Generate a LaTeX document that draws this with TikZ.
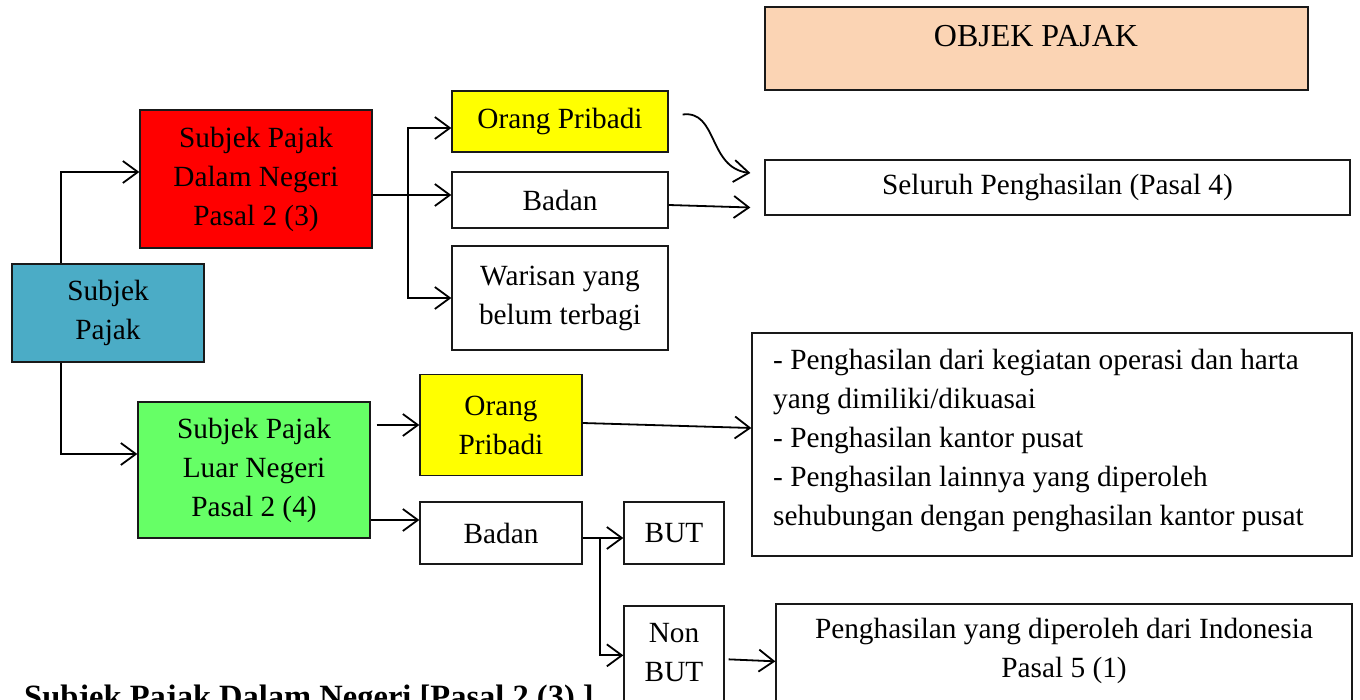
\documentclass[tikz,border=0pt]{standalone}
\usepackage{fontspec}
\setmainfont{Liberation Serif}
\usetikzlibrary{arrows.meta}
\definecolor{peach}{HTML}{FBD4B4}
\definecolor{sred}{HTML}{FF0000}
\definecolor{syellow}{HTML}{FFFF00}
\definecolor{sgreen}{HTML}{66FF66}
\definecolor{sblue}{HTML}{4BACC6}
\begin{document}
\begin{tikzpicture}[x=1pt,y=-1pt,
  box/.style={draw=black!90, line width=1.3pt, inner sep=0pt, align=center,
    font=\fontsize{29.3}{39}\selectfont},
  txt/.style={inner sep=0pt, align=center, font=\fontsize{29.3}{39}\selectfont},
  conn/.style={line width=1.8pt, -{Straight Barb[length=15pt,width=22pt,line width=1.8pt]}}]
\useasboundingbox (0,0) rectangle (1360,700);
\clip (0,0) rectangle (1360,700);
\fill[white] (0,0) rectangle (1360,700);

% top right header
\node[box, fill=peach, minimum width=543pt, minimum height=83pt] (obj) at (1036.5,48.5) {};
\node[txt, font=\fontsize{32}{39}\selectfont] (objt) at (1036,36) {OBJEK PAJAK};

% left column
\node[box, fill=sblue, minimum width=192pt, minimum height=98pt] (sp) at (108,313) {Subjek\\Pajak};
\node[box, fill=sred, minimum width=232pt, minimum height=138pt] (sdn) at (256,179) {Subjek Pajak\\Dalam Negeri\\Pasal 2 (3)};
\node[box, fill=sgreen, minimum width=232pt, minimum height=136pt] (sln) at (254,470) {Subjek Pajak\\Luar Negeri\\Pasal 2 (4)};

% dalam negeri branch
\node[box, fill=syellow, minimum width=216pt, minimum height=61pt] (op1) at (560,121.5) {Orang Pribadi};
\node[box, fill=white, minimum width=216pt, minimum height=56pt] (bd1) at (560,200) {Badan};
\node[box, fill=white, minimum width=216pt, minimum height=104pt] (wr) at (560,298) {Warisan yang\\belum terbagi};
\node[box, fill=white, minimum width=585pt, minimum height=55pt] (sel) at (1057.5,187.5) {Seluruh Penghasilan (Pasal 4)};

% luar negeri branch
\node[box, fill=syellow, minimum width=162pt, minimum height=101pt] (op2) at (501,425) {Orang\\Pribadi};
\node[box, fill=white, minimum width=162pt, minimum height=62pt] (bd2) at (501,533) {Badan};
\node[box, fill=white, minimum width=100pt, minimum height=62pt] (but) at (674,533) {BUT};
\node[box, fill=white, minimum width=100pt, minimum height=134pt] (nbb) at (674,673) {};
\node[txt] (nbt) at (674,653) {Non\\BUT};
\node[box, fill=white, minimum width=600pt, minimum height=223pt] (lst) at (1052,444.5) {};
\node[txt, align=left, anchor=west] (lstt) at (773,440) {- Penghasilan dari kegiatan operasi dan harta\\yang dimiliki/dikuasai\\- Penghasilan kantor pusat\\- Penghasilan lainnya yang diperoleh\\sehubungan dengan penghasilan kantor pusat};
\node[box, fill=white, minimum width=576pt, minimum height=136pt] (pen) at (1064,672) {};
\node[txt] (pent) at (1064,651) {Penghasilan yang diperoleh dari Indonesia\\Pasal 5 (1)};

% cut-off caption at bottom
\node[inner sep=0pt, anchor=base west, font=\fontsize{32.5}{39}\selectfont\bfseries] (cap) at (24,707) {Subjek Pajak Dalam Negeri [Pasal 2 (3) ]};

% connectors from Subjek Pajak
\draw[conn] ([xshift=50pt]sp.north west) |- ([yshift=7pt]sdn.west);
\draw[conn] ([xshift=50pt]sp.south west) |- ([yshift=16pt]sln.west);

% dalam negeri bus
\coordinate (busA) at (408,195);
\draw[conn] ([yshift=-16pt]sdn.east) -- ([yshift=-16pt]sdn.east -| bd1.west);
\draw[conn] (busA) |- ([yshift=-6.5pt]op1.west);
\draw[conn] (busA) |- (wr.west);

% to Seluruh Penghasilan
\draw[conn] ([xshift=14pt,yshift=7pt]op1.east) .. controls (718,110) and (708,168) .. ([xshift=-14pt,yshift=14.5pt]sel.west);
\draw[conn] ([yshift=-5pt]bd1.east) -- ([xshift=-14pt,yshift=-20pt]sel.west);

% luar negeri
\draw[conn] ([xshift=6pt]sln.east |- op2.west) -- (op2.west);
\draw[conn] ([yshift=-50pt]sln.east) -- ([yshift=13pt]bd2.west);
\draw[conn] ([yshift=2pt]op2.east) -- ([yshift=16.5pt]lst.west);

\coordinate (busB) at (600,538);
\draw[conn] ([yshift=-5pt]bd2.east) -- ([yshift=-5pt]but.west);
\draw[conn] (busB) |- ([yshift=-50pt]nbb.north west);
\draw[conn] ([xshift=4pt,yshift=-54pt]nbb.north east) -- ([yshift=-58pt]pen.north west);
\end{tikzpicture}
\end{document}
